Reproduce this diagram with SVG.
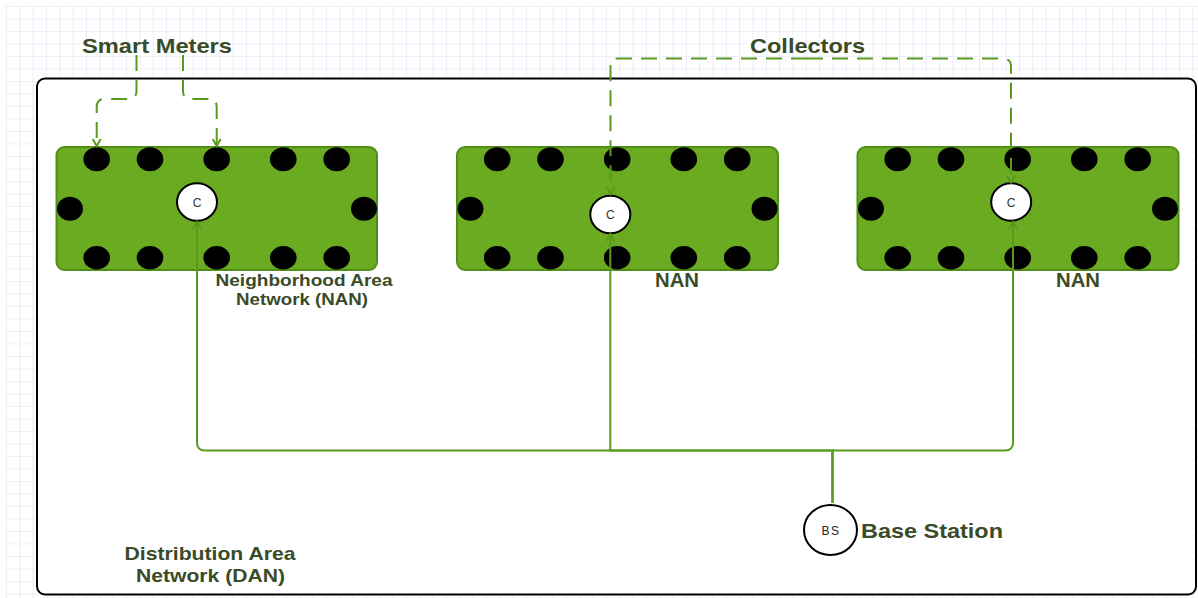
<svg xmlns="http://www.w3.org/2000/svg" width="1198" height="598" viewBox="0 0 1198 598">
<style>
.lbl{font-family:"Liberation Sans",Arial,sans-serif;font-weight:bold;fill:#3a4b27;text-anchor:middle}
.nan{fill:#6aab22;stroke:#4f8f18;stroke-width:2}
.dot{fill:#000}
.col{fill:#fff;stroke:#000;stroke-width:2}
.ctext{font-family:"Liberation Sans",Arial,sans-serif;font-size:12px;fill:#333;text-anchor:middle}
.dash{fill:none;stroke:#5a9a1c;stroke-width:2;stroke-dasharray:16 9}
.solid{fill:none;stroke:#5a9a1c;stroke-width:2}
</style>
<defs>
<pattern id="grid" x="6" y="6" width="13.33" height="12.5" patternUnits="userSpaceOnUse">
<path d="M0,0 H13.33 M0,0 V12.5" fill="none" stroke="#e0e0f8" stroke-width="1.2"/>
</pattern>
<marker id="arr" markerWidth="10" markerHeight="10" refX="8" refY="5" orient="auto" markerUnits="userSpaceOnUse">
<path d="M1,1 L8,5 L1,9" fill="none" stroke="#5a9a1c" stroke-width="2"/>
</marker>
<g id="dots">
<ellipse class="dot" cx="40.7" cy="12.3" rx="13.3" ry="12"/>
<ellipse class="dot" cx="94" cy="12.3" rx="13.3" ry="12"/>
<ellipse class="dot" cx="160.7" cy="12.3" rx="13.3" ry="12"/>
<ellipse class="dot" cx="227.3" cy="12.3" rx="13.3" ry="12"/>
<ellipse class="dot" cx="280.7" cy="12.3" rx="13.3" ry="12"/>
<ellipse class="dot" cx="14" cy="61.7" rx="13" ry="12"/>
<ellipse class="dot" cx="308" cy="61.7" rx="13" ry="12"/>
<ellipse class="dot" cx="40.7" cy="110.7" rx="13.3" ry="11.7"/>
<ellipse class="dot" cx="94" cy="110.7" rx="13.3" ry="11.7"/>
<ellipse class="dot" cx="160.7" cy="110.7" rx="13.3" ry="11.7"/>
<ellipse class="dot" cx="227.3" cy="110.7" rx="13.3" ry="11.7"/>
<ellipse class="dot" cx="280.7" cy="110.7" rx="13.3" ry="11.7"/>
</g>
</defs>
<rect x="0" y="0" width="1198" height="598" fill="#fff"/>
<rect x="6" y="6" width="1192" height="592" fill="url(#grid)"/>

<g id="dan">
<rect x="37" y="78.5" width="1159" height="516" rx="8" fill="#fff" stroke="#000" stroke-width="2"/>
<text class="lbl" font-size="19" x="210" y="560" textLength="171" lengthAdjust="spacingAndGlyphs">Distribution Area</text>
<text class="lbl" font-size="19" x="210.5" y="582" textLength="149" lengthAdjust="spacingAndGlyphs">Network (DAN)</text>
</g>

<g id="nan1">
<rect class="nan" x="56.5" y="147" width="320.5" height="123" rx="8"/>
<use href="#dots" x="56" y="147"/>
<text class="lbl" font-size="16" x="304" y="286" textLength="177" lengthAdjust="spacingAndGlyphs">Neighborhood Area</text>
<text class="lbl" font-size="16" x="302" y="305" textLength="132" lengthAdjust="spacingAndGlyphs">Network (NAN)</text>
</g>
<g id="nan2">
<rect class="nan" x="457" y="147" width="321" height="123" rx="8"/>
<use href="#dots" x="456.5" y="147"/>
<text class="lbl" font-size="19.5" x="677" y="287" textLength="44" lengthAdjust="spacingAndGlyphs">NAN</text>
</g>
<g id="nan3">
<rect class="nan" x="857.5" y="147" width="321" height="123" rx="8"/>
<use href="#dots" x="857" y="147"/>
<text class="lbl" font-size="19.5" x="1078" y="287" textLength="44" lengthAdjust="spacingAndGlyphs">NAN</text>
</g>

<g id="c1"><ellipse class="col" cx="197" cy="202" rx="20" ry="18.7"/><text class="ctext" x="197" y="206.5">C</text></g>
<g id="c2"><ellipse class="col" cx="610.3" cy="214.5" rx="20" ry="18.7"/><text class="ctext" x="610.3" y="219">C</text></g>
<g id="c3"><ellipse class="col" cx="1011.2" cy="202" rx="20" ry="18.7"/><text class="ctext" x="1011.2" y="206.5">C</text></g>

<g id="bs">
<ellipse class="col" cx="830.5" cy="530" rx="26.5" ry="25"/>
<text class="ctext" font-size="13" x="831" y="535" letter-spacing="1.5" style="fill:#222">BS</text>
<text class="lbl" font-size="21" x="932" y="538" textLength="142" lengthAdjust="spacingAndGlyphs">Base Station</text>
</g>

<g id="labels">
<text class="lbl" font-size="21" x="157" y="53" textLength="150" lengthAdjust="spacingAndGlyphs">Smart Meters</text>
<text class="lbl" font-size="21" x="807.5" y="53" textLength="115" lengthAdjust="spacingAndGlyphs">Collectors</text>
</g>

<g id="connectors">
<path class="dash" marker-end="url(#arr)" d="M136.5,55 V91 Q136.5,99 128.5,99 H104.7 Q96.7,99 96.7,107 V146"/>
<path class="dash" marker-end="url(#arr)" d="M183,55 V91 Q183,99 191,99 H208.7 Q216.7,99 216.7,107 V146"/>
<path class="dash" marker-end="url(#arr)" d="M807,58.5 H618.5 Q610.5,58.5 610.5,66.5 V194"/>
<path class="dash" marker-end="url(#arr)" d="M807,58.5 H1003 Q1011,58.5 1011,66.5 V182.5"/>
<path class="solid" marker-end="url(#arr)" d="M832.5,503 V450.5 H205 Q197,450.5 197,442.5 V222"/>
<path class="solid" marker-end="url(#arr)" d="M832.5,503 V450.5 H610.3 V234"/>
<path class="solid" marker-end="url(#arr)" d="M832.5,503 V450.5 H1005 Q1013,450.5 1013,442.5 V222"/>
</g>
</svg>
